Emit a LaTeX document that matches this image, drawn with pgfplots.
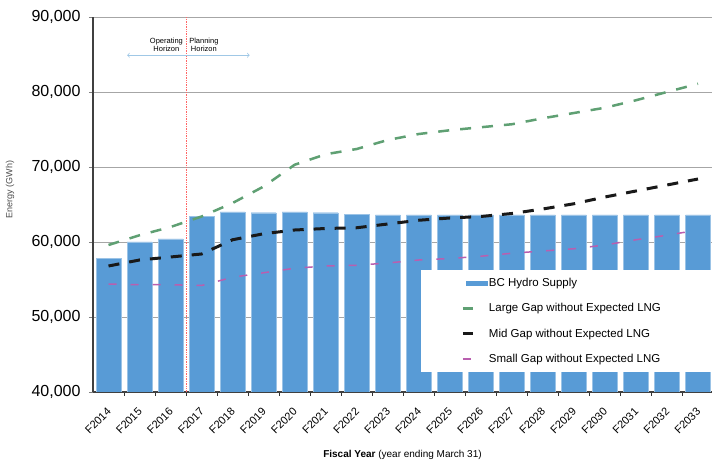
\documentclass[border=0pt]{standalone}
\usepackage{pgfplots}
\pgfplotsset{compat=1.18}
\usepackage{fontspec}
\setmainfont{Liberation Sans}

\definecolor{barblue}{RGB}{88,155,214}
\definecolor{gapgreen}{RGB}{95,160,115}
\definecolor{gapblack}{RGB}{25,25,25}
\definecolor{gappurple}{RGB}{185,95,175}
\definecolor{arrowblue}{RGB}{160,200,230}

\begin{document}
\begin{tikzpicture}[x=1pt,y=1pt]
\useasboundingbox (0,0) rectangle (712,463);
\begin{axis}[
    at={(93pt,71pt)}, anchor=south west,
    scale only axis, width=619pt, height=375pt,
    xmin=-0.5, xmax=19.45, ymin=40000, ymax=90000,
    axis x line*=bottom, axis y line*=left,
    axis line style={draw=black!75, line width=1.2pt},
    xtick={0,...,19},
    xticklabels={F2014,F2015,F2016,F2017,F2018,F2019,F2020,F2021,F2022,F2023,
                 F2024,F2025,F2026,F2027,F2028,F2029,F2030,F2031,F2032,F2033},
    x tick label style={rotate=45, anchor=north east, font=\fontsize{11}{12}\selectfont, xshift=-6pt, yshift=-2.7pt},
    major x tick style={draw=none},
    minor x tick num=1,
    minor x tick style={draw=black!80, line width=0.8pt},
    minor tick length=4pt,
    tick align=outside,
    ytick={40000,50000,...,90000},
    y tick label style={font=\fontsize{16}{16}\selectfont, xshift=-5pt},
    yticklabel style={/pgf/number format/.cd, 1000 sep={,}, assume math mode=true},
    scaled y ticks=false,
    major tick length=4pt,
    ymajorgrids, grid style={draw=black!35, line width=0.8pt},
    xlabel={\textbf{Fiscal Year} (year ending March 31)},
    xlabel style={font=\fontsize{10}{12}\selectfont, at={(axis description cs:0.5,-0.168)}, anchor=center},
    ylabel={Energy (GWh)},
    ylabel style={font=\fontsize{9}{10}\selectfont, text=black!70, at={(axis description cs:-0.134,0.54)}, anchor=center},
    legend style={at={(0.53,0.325)}, anchor=north west, fill=white, draw=none,
        font=\fontsize{11.5}{12}\selectfont, row sep=11.5pt, inner xsep=40pt, inner ysep=6pt},
    legend cell align=left,
]
\addplot[ybar, bar width=25pt, bar shift=0pt, fill=barblue, draw=barblue!60!white,
    legend image code/.code={\fill[barblue] (3pt,-2pt) rectangle (24pt,2pt);}]
  coordinates {(0,57800) (1,60000) (2,60400) (3,63400) (4,64000) (5,63900) (6,64000)
    (7,63900) (8,63700) (9,63600) (10,63600) (11,63600) (12,63600) (13,63600)
    (14,63600) (15,63600) (16,63600) (17,63600) (18,63600) (19,63600)};
\addlegendentry{BC Hydro Supply}
\addplot[gapgreen, line width=2.5pt, dash pattern=on 11pt off 11pt,
    legend image code/.code={\draw[gapgreen, line width=2.5pt] (0pt,0pt) -- (10pt,0pt);}]
  coordinates {(0,59600) (1,60900) (2,62000) (3,63400) (4,65200) (5,67400) (6,70300)
    (7,71700) (8,72400) (9,73600) (10,74400) (11,74900) (12,75300) (13,75700)
    (14,76500) (15,77200) (16,77900) (17,78900) (18,80000) (19,81100)};
\addlegendentry{Large Gap without Expected LNG\hspace*{45pt}}
\addplot[gapblack, line width=3pt, dash pattern=on 11pt off 10pt,
    legend image code/.code={\draw[gapblack, line width=3pt] (0pt,0pt) -- (10pt,0pt);}]
  coordinates {(0,56800) (1,57600) (2,58000) (3,58400) (4,60300) (5,61100) (6,61600)
    (7,61800) (8,61900) (9,62400) (10,62900) (11,63200) (12,63400) (13,63800)
    (14,64400) (15,65100) (16,66000) (17,66800) (18,67600) (19,68400)};
\addlegendentry{Mid Gap without Expected LNG}
\addplot[gappurple, line width=1.5pt, dash pattern=on 8pt off 14pt,
    legend image code/.code={\draw[gappurple, line width=1.5pt] (0pt,0pt) -- (10pt,0pt);}]
  coordinates {(0,54400) (1,54300) (2,54300) (3,54200) (4,55300) (5,55900) (6,56500)
    (7,56800) (8,56900) (9,57200) (10,57600) (11,57800) (12,58100) (13,58500)
    (14,58800) (15,59100) (16,59600) (17,60300) (18,60900) (19,61600)};
\addlegendentry{Small Gap without Expected LNG}
\draw[red!60, densely dotted, line width=0.7pt] (axis cs:2.5,40000) -- (axis cs:2.5,90000);
\draw[<->, arrowblue, line width=0.8pt] (axis cs:0.6,84900) -- (axis cs:4.55,84900);
\node[anchor=south east, align=center, font=\fontsize{7.5}{8}\selectfont, inner sep=1pt, xshift=-2pt]
  at (axis cs:2.5,85200) {Operating\\Horizon};
\node[anchor=south west, align=center, font=\fontsize{7.5}{8}\selectfont, inner sep=1pt, xshift=2pt]
  at (axis cs:2.5,85200) {Planning\\Horizon};
\end{axis}
\end{tikzpicture}
\end{document}
